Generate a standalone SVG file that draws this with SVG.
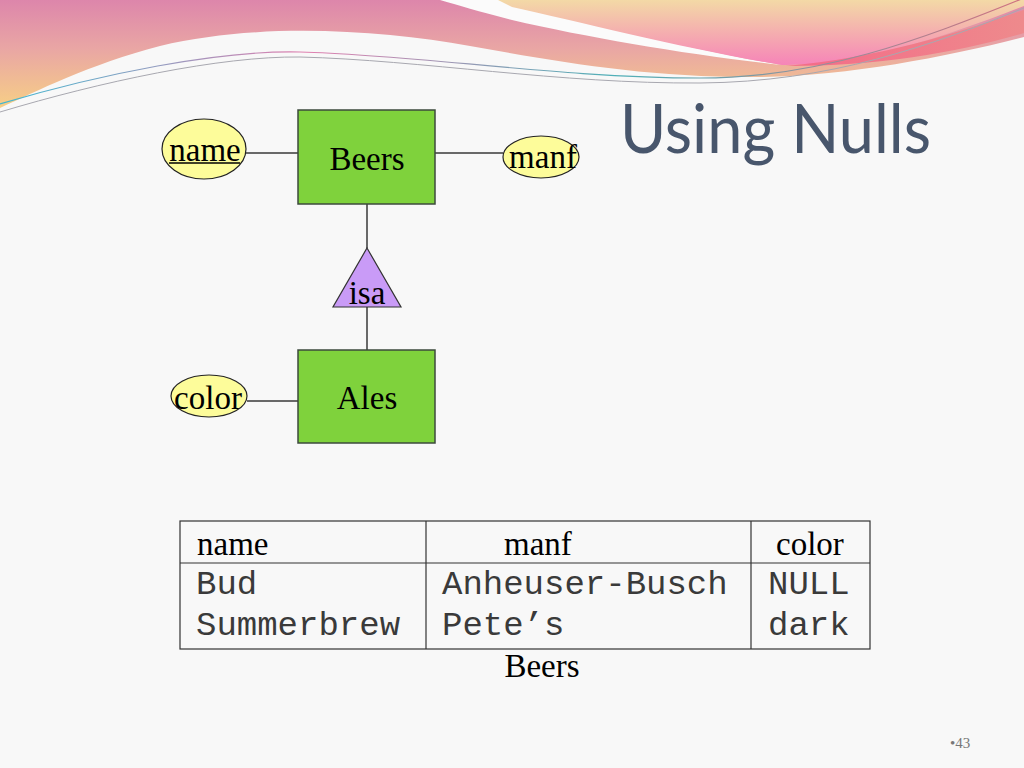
<svg xmlns="http://www.w3.org/2000/svg" width="1024" height="768" viewBox="0 0 1024 768">
<defs>
<linearGradient id="gL" x1="0" y1="0" x2="0" y2="1"><stop offset="0" stop-color="#dd86ab"/><stop offset="0.45" stop-color="#e9a6a4"/><stop offset="1" stop-color="#f7cf86"/></linearGradient>
<linearGradient id="gP" x1="0" y1="0" x2="0" y2="1"><stop offset="0" stop-color="#f3d9a6"/><stop offset="1" stop-color="#f684b8"/></linearGradient>
<linearGradient id="gR" x1="0" y1="0" x2="1" y2="0"><stop offset="0" stop-color="#f46a88"/><stop offset="1" stop-color="#ee8a8c"/></linearGradient>
<linearGradient id="gLine" x1="0" y1="0" x2="1" y2="0"><stop offset="0" stop-color="#40b8d0"/><stop offset="0.3" stop-color="#e080b0"/><stop offset="0.6" stop-color="#50b0b8"/><stop offset="1" stop-color="#d07080"/></linearGradient>
</defs>
<style>
.ent{fill:#7fd23c;stroke:#3c4a3c;stroke-width:1.5}
.att{fill:#fdfc9a;stroke:#222;stroke-width:1.2}
.isa{fill:#c99bf7;stroke:#333;stroke-width:1.2}
.lbl{font-family:"Liberation Serif","Times New Roman",serif;font-size:33px;fill:#000;text-anchor:middle}
.tbl{font-family:"Liberation Serif","Times New Roman",serif;font-size:33px;fill:#000}
.mono{font-family:"Liberation Mono","Courier New",monospace;font-size:34px;fill:#3a3a3a}
.conn{stroke:#3a3a3a;stroke-width:1.5;fill:none}
.grid{stroke:#333;stroke-width:1.2;fill:none}
</style>
<rect x="0" y="0" width="1024" height="768" fill="#f8f8f8"/>
<g id="background">
<path d="M0,0 H1024 V37 C950,56 850,76 760,77 C650,78 560,62 470,46 C380,30 260,22 160,46 C90,64 35,92 0,108 Z" fill="url(#gL)"/>
<path d="M440,0 L500,0 C560,14 680,48 782,65 C690,55 590,38 512,20 C480,12 458,5 440,0 Z" fill="#fbfbfb"/>
<path d="M498,0 H1024 V6 C950,35 860,66 782,65 C690,50 580,22 512,7 Z" fill="url(#gP)"/>
<path d="M786,66 C880,58 960,32 1024,10 V33 C960,52 880,66 786,66 Z" fill="url(#gR)"/>
<path d="M0,104 C100,74 220,50 300,52 C420,55 560,78 700,78 C820,78 920,40 1024,-2" stroke="url(#gLine)" stroke-width="1.2" fill="none"/>
<path d="M0,112 C100,82 220,56 300,57 C420,60 560,84 700,83 C830,82 930,46 1024,8" stroke="#a8a8b0" stroke-width="1" fill="none"/>
</g>
<text x="620" y="153" font-family="Lato,'Open Sans',sans-serif" font-size="68" fill="#48566c" textLength="311" lengthAdjust="spacingAndGlyphs">Using Nulls</text>
<g id="connectors">
<line class="conn" x1="246" y1="153" x2="298" y2="153"/>
<line class="conn" x1="435" y1="153" x2="503" y2="153"/>
<line class="conn" x1="367" y1="204" x2="367" y2="248"/>
<line class="conn" x1="367" y1="307" x2="367" y2="350"/>
<line class="conn" x1="247" y1="401" x2="298" y2="401"/>
</g>
<g id="Beers"><rect class="ent" x="298" y="110" width="137" height="94"/><text class="lbl" x="367" y="170">Beers</text></g>
<g id="Ales"><rect class="ent" x="298" y="350" width="137" height="93"/><text class="lbl" x="367" y="409">Ales</text></g>
<g id="name"><ellipse class="att" cx="204" cy="149" rx="42" ry="30"/><text class="lbl" x="205" y="161">name</text><line x1="169" y1="163" x2="240" y2="163" stroke="#000" stroke-width="1.3"/></g>
<g id="manf"><ellipse class="att" cx="541" cy="157" rx="38" ry="21"/><text class="lbl" x="543" y="168">manf</text></g>
<g id="color"><ellipse class="att" cx="209" cy="396" rx="38" ry="21"/><text class="lbl" x="208" y="409">color</text></g>
<g id="isa"><polygon class="isa" points="367,248 401,307 333,307"/><text class="lbl" x="367" y="304">isa</text></g>
<g id="table">
<rect class="grid" x="180" y="521" width="690" height="128"/>
<line class="grid" x1="180" y1="563" x2="870" y2="563"/>
<line class="grid" x1="426" y1="521" x2="426" y2="649"/>
<line class="grid" x1="751" y1="521" x2="751" y2="649"/>
<text class="tbl" x="197" y="555">name</text>
<text class="tbl" x="504" y="555">manf</text>
<text class="tbl" x="776" y="555">color</text>
<text class="mono" x="196" y="594">Bud</text>
<text class="mono" x="442" y="594">Anheuser-Busch</text>
<text class="mono" x="768" y="594">NULL</text>
<text class="mono" x="196" y="635">Summerbrew</text>
<text class="mono" x="442" y="635">Pete’s</text>
<text class="mono" x="768" y="635">dark</text>
<text class="lbl" x="542" y="677">Beers</text>
</g>
<text x="950" y="748" font-family="'Liberation Serif',serif" font-size="15" fill="#777">•43</text>
</svg>
